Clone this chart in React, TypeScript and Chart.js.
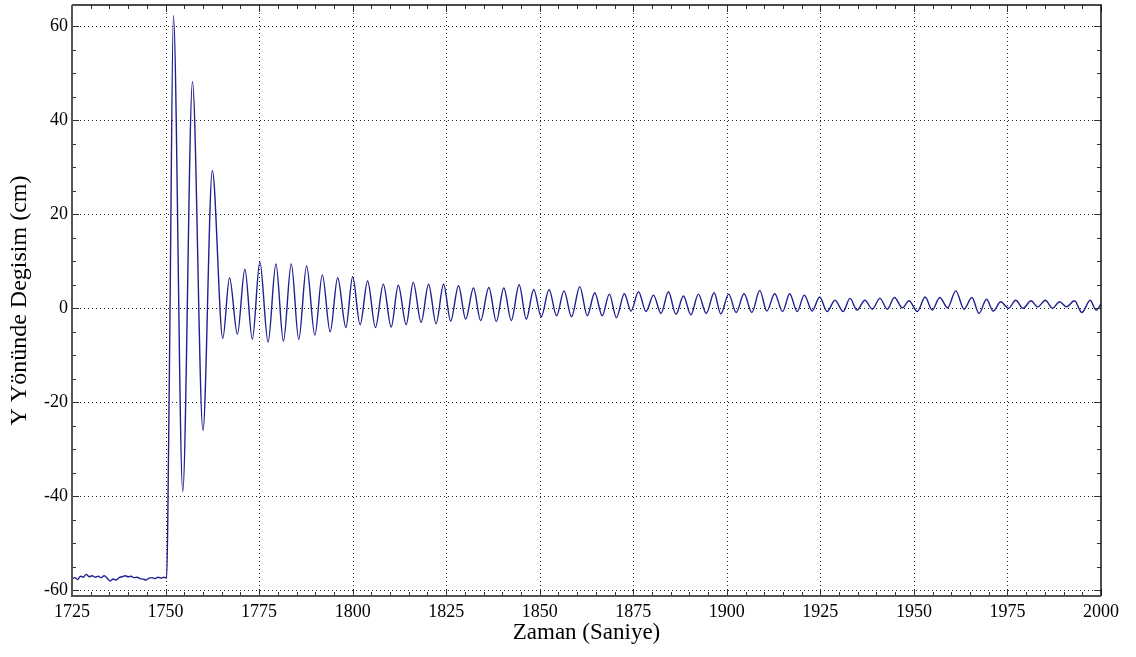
import { useEffect, useRef } from 'react';
import { Chart, registerables } from 'chart.js';

Chart.register(...registerables);

const X_MIN = 1725;
const X_MAX = 2000;
const Y_MIN = -61.2;
const Y_MAX = 64.5;

const xTickValues = [1725, 1750, 1775, 1800, 1825, 1850, 1875, 1900, 1925, 1950, 1975, 2000];
const yTickValues = [-60, -40, -20, 0, 20, 40, 60];

const X_TITLE = 'Zaman (Saniye)';
const Y_TITLE = 'Y Yönünde Degisim (cm)';

// resting level before the release
const baselineTime = [1725, 1725.8, 1726.5, 1727.3, 1728, 1728.8, 1729.6, 1730.4, 1731.2, 1732, 1732.8, 1733.6, 1734.4, 1735.2, 1736, 1736.8, 1737.6, 1738.4, 1739.2, 1740, 1740.8, 1741.6, 1742.4, 1743.2, 1744, 1744.8, 1745.6, 1746.4, 1747.2, 1748, 1748.8, 1749.6, 1750.3];
const baselineY = [-57.6, -57.3, -57.7, -57.0, -57.2, -56.6, -57.1, -56.9, -57.2, -57.0, -57.3, -56.9, -57.4, -58.0, -57.6, -57.8, -57.3, -57.1, -56.9, -57.1, -57.0, -57.3, -57.2, -57.5, -57.6, -57.8, -57.4, -57.3, -57.5, -57.2, -57.4, -57.2, -57.4];

// large transient swings
const transientTime = [1750.6, 1751.2, 1752.1, 1754.6, 1757.2, 1760.0, 1762.5];
const transientY = [-45, 0, 62.2, -39.0, 48.2, -26.0, 29.3];

// decaying oscillation, first part (peaks and troughs)
const oscTimeA = [1765.3, 1767.1, 1769.2, 1771.2, 1773.2, 1775.2, 1777.4, 1779.5, 1781.5, 1783.6, 1785.6, 1787.7, 1789.9, 1791.9, 1794.0, 1796.0, 1798.2, 1800.0, 1802.0, 1804.0, 1806.1, 1808.2, 1810.3, 1812.2, 1814.3, 1816.2, 1818.3, 1820.3, 1822.3, 1824.3, 1826.2, 1828.3, 1830.2, 1832.3, 1834.2, 1836.4, 1838.4, 1840.4, 1842.4, 1844.5, 1846.4, 1848.4];
const oscYA = [-6.4, 6.5, -5.5, 8.3, -6.6, 9.9, -7.2, 9.4, -7.0, 9.4, -6.6, 9.0, -5.7, 7.1, -5.0, 6.5, -4.1, 6.7, -3.5, 5.8, -4.1, 5.1, -4.0, 4.9, -3.5, 5.5, -3.0, 5.1, -3.3, 5.1, -2.7, 4.8, -2.3, 4.3, -2.6, 4.4, -2.8, 4.3, -2.6, 5.0, -2.3, 4.0];

// decaying oscillation, second part
const oscTimeB = [1850.4, 1852.5, 1854.5, 1856.5, 1858.5, 1860.7, 1862.7, 1864.7, 1866.7, 1868.6, 1870.5, 1872.6, 1874.4, 1876.4, 1878.4, 1880.4, 1882.4, 1884.4, 1886.4, 1888.4, 1890.4, 1892.4, 1894.5, 1896.6, 1898.4, 1900.5, 1902.5, 1904.6, 1906.7, 1908.8, 1910.7, 1912.8, 1914.9, 1916.8, 1918.8, 1920.7, 1922.8, 1924.8, 1926.8, 1928.9];
const oscYB = [-1.8, 4.0, -1.6, 3.7, -1.8, 4.6, -1.6, 3.3, -1.6, 3.0, -2.0, 3.1, -0.6, 3.5, -0.7, 2.8, -1.1, 3.5, -1.3, 2.6, -1.4, 3.0, -1.1, 3.3, -1.2, 3.0, -0.9, 3.1, -0.9, 3.8, -0.6, 3.1, -0.7, 3.1, -0.7, 2.8, -0.6, 2.4, -0.7, 1.7];

// tail
const oscTimeC = [1931.1, 1932.9, 1934.8, 1936.9, 1938.9, 1940.9, 1942.9, 1944.8, 1946.9, 1948.7, 1950.9, 1953.0, 1954.9, 1956.9, 1959.0, 1961.2, 1963.4, 1965.5, 1967.4, 1969.4, 1971.2, 1973.2, 1975.3, 1977.2, 1979.2, 1981.3, 1983.1, 1985.1, 1987.1, 1988.9, 1990.8, 1992.9, 1994.9, 1997.1, 1998.7, 2000];
const oscYC = [-0.7, 2.1, -0.4, 1.7, -0.2, 2.1, -0.2, 2.3, 0.1, 1.6, -0.7, 2.4, -0.4, 2.3, 0.1, 3.7, -0.2, 2.3, -1.1, 1.9, -0.6, 1.4, 0.0, 1.7, 0.0, 1.6, 0.3, 1.7, 0.0, 1.4, 0.3, 1.6, -0.9, 1.7, -0.4, 0.9];

const SERIF = "'Liberation Serif', 'Times New Roman', serif";

function toPoints(t: number[], v: number[]) {
  return t.map((x, i) => ({ x, y: v[i] }));
}

const frameGridPlugin = {
  id: 'frameGrid',
  beforeDatasetsDraw(chart: any) {
    const { ctx, chartArea: a, scales } = chart;
    const xs = scales.x;
    const ys = scales.y;
    ctx.save();
    ctx.strokeStyle = '#222';
    ctx.lineWidth = 1;
    ctx.setLineDash([1, 3]);
    for (const v of xTickValues) {
      const px = Math.round(xs.getPixelForValue(v)) + 0.5;
      if (px <= a.left + 2 || px >= a.right - 2) continue;
      ctx.beginPath();
      ctx.moveTo(px, a.top);
      ctx.lineTo(px, a.bottom);
      ctx.stroke();
    }
    for (const v of yTickValues) {
      const py = Math.round(ys.getPixelForValue(v)) + 0.5;
      if (py <= a.top + 2 || py >= a.bottom - 2) continue;
      ctx.beginPath();
      ctx.moveTo(a.left, py);
      ctx.lineTo(a.right, py);
      ctx.stroke();
    }
    ctx.restore();
  },
  afterDatasetsDraw(chart: any) {
    const { ctx, chartArea: a, scales } = chart;
    const xs = scales.x;
    const ys = scales.y;
    ctx.save();
    ctx.setLineDash([]);
    ctx.strokeStyle = '#333';
    ctx.lineWidth = 1;
    for (let v = X_MIN; v <= X_MAX; v += 5) {
      const major = (v - X_MIN) % 25 === 0;
      const len = major ? 7 : 4;
      const px = Math.round(xs.getPixelForValue(v)) + 0.5;
      ctx.beginPath();
      ctx.moveTo(px, a.bottom);
      ctx.lineTo(px, a.bottom - len);
      ctx.moveTo(px, a.top);
      ctx.lineTo(px, a.top + len);
      ctx.stroke();
    }
    for (let v = -60; v <= 60; v += 5) {
      const major = v % 20 === 0;
      const len = major ? 7 : 4;
      const py = Math.round(ys.getPixelForValue(v)) + 0.5;
      ctx.beginPath();
      ctx.moveTo(a.left, py);
      ctx.lineTo(a.left + len, py);
      ctx.moveTo(a.right, py);
      ctx.lineTo(a.right - len, py);
      ctx.stroke();
    }
    ctx.strokeStyle = '#111';
    ctx.lineWidth = 1.5;
    ctx.beginPath();
    ctx.moveTo(a.left, a.top);
    ctx.lineTo(a.right, a.top);
    ctx.lineTo(a.right, a.bottom);
    ctx.stroke();
    ctx.strokeStyle = '#555';
    ctx.lineWidth = 2;
    ctx.beginPath();
    ctx.moveTo(a.left, a.top);
    ctx.lineTo(a.left, a.bottom);
    ctx.lineTo(a.right, a.bottom);
    ctx.stroke();
    ctx.restore();
  },
};

export default function App() {
  const canvasRef = useRef<HTMLCanvasElement | null>(null);

  useEffect(() => {
    if (!canvasRef.current) return;
    const data = [
      ...toPoints(baselineTime, baselineY),
      ...toPoints(transientTime, transientY),
      ...toPoints(oscTimeA, oscYA),
      ...toPoints(oscTimeB, oscYB),
      ...toPoints(oscTimeC, oscYC),
    ];
    const chart = new Chart(canvasRef.current, {
      type: 'line',
      data: {
        datasets: [
          {
            data,
            borderColor: '#20208e',
            borderWidth: 1.4,
            pointRadius: 0,
            cubicInterpolationMode: 'monotone',
            fill: false,
          },
        ],
      },
      options: {
        animation: false,
        responsive: false,
        maintainAspectRatio: false,
        layout: { padding: { top: 5, right: 35, left: 0, bottom: 0 } },
        plugins: {
          legend: { display: false },
          tooltip: { enabled: false },
        },
        scales: {
          x: {
            type: 'linear',
            min: X_MIN,
            max: X_MAX,
            afterBuildTicks: (s: any) => {
              s.ticks = xTickValues.map((value) => ({ value }));
            },
            afterFit: (s: any) => {
              s.height = 61;
              s.paddingLeft = 0;
              s.paddingRight = 0;
            },
            grid: { display: false, drawTicks: false },
            border: { display: false },
            ticks: {
              autoSkip: false,
              maxRotation: 0,
              padding: 5,
              color: '#000',
              font: { family: SERIF, size: 18 },
              callback: (v: any) => String(v),
            },
            title: {
              display: true,
              text: X_TITLE,
              color: '#000',
              font: { family: SERIF, size: 23 },
              padding: { top: 0, bottom: 10 },
            },
          },
          y: {
            type: 'linear',
            min: Y_MIN,
            max: Y_MAX,
            afterBuildTicks: (s: any) => {
              s.ticks = yTickValues.map((value) => ({ value }));
            },
            afterFit: (s: any) => {
              s.width = 72;
              s.paddingTop = 0;
              s.paddingBottom = 0;
            },
            grid: { display: false, drawTicks: false },
            border: { display: false },
            ticks: {
              autoSkip: false,
              padding: 4,
              color: '#000',
              font: { family: SERIF, size: 18 },
              callback: (v: any) => String(v),
            },
            title: {
              display: true,
              text: Y_TITLE,
              color: '#000',
              font: { family: SERIF, size: 24 },
              padding: { top: 5, bottom: 0 },
            },
          },
        },
      },
      plugins: [frameGridPlugin],
    });
    return () => chart.destroy();
  }, []);

  return (
    <div style={{ position: 'absolute', left: 0, top: 0, width: 1136, height: 657, background: '#fff' }}>
      <canvas ref={canvasRef} width={1136} height={657} style={{ display: 'block' }} />
    </div>
  );
}
